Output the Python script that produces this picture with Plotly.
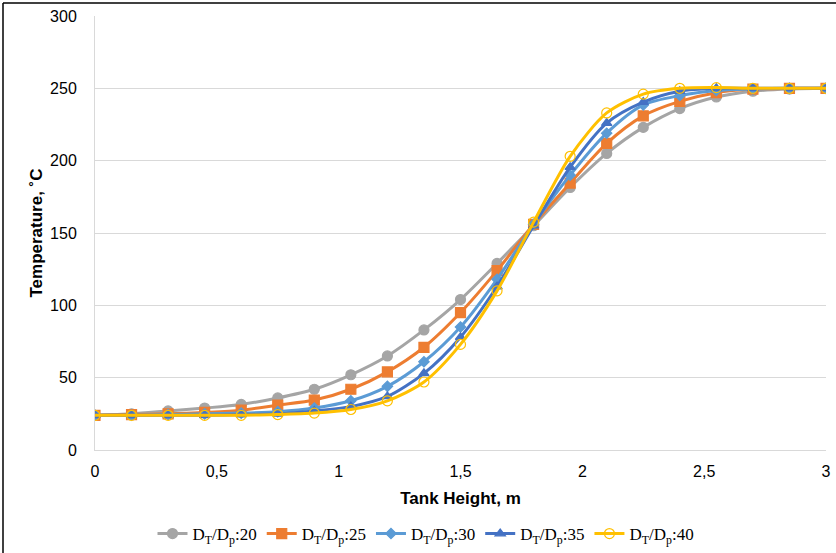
import plotly.graph_objects as go

heights = [0, 0.15, 0.3, 0.45, 0.6, 0.75, 0.9, 1.05, 1.2, 1.35, 1.5, 1.65, 1.8, 1.95, 2.1, 2.25, 2.4, 2.55, 2.7, 2.85, 3.0]

t_20 = [24, 25, 27, 29, 31.5, 36, 42, 52, 65, 83, 104, 129, 155, 181.5, 205, 223, 236, 244, 248, 249.5, 250]
t_25 = [24, 24.5, 25, 26, 27.5, 31, 34.5, 42, 54, 71, 95, 124, 156, 184.5, 212, 231, 241, 247, 249.5, 250, 250]
t_30 = [24, 24, 24.5, 25, 25.5, 26.5, 29, 34, 44, 61, 85, 118, 156, 190, 219, 238.5, 245, 248.5, 249.5, 250, 250]
t_35 = [24, 24, 24, 24, 24.5, 25, 27, 30, 37, 53, 78, 113, 155, 195.5, 226, 240.5, 248, 250, 250, 250, 250]
t_40 = [24, 24, 24, 24, 24, 24.5, 25.5, 28, 34, 47, 73, 110, 157.5, 203, 233, 246, 250, 250.5, 250, 250, 250]

series_names = ["D<sub>T</sub>/D<sub>p</sub>:20", "D<sub>T</sub>/D<sub>p</sub>:25",
                "D<sub>T</sub>/D<sub>p</sub>:30", "D<sub>T</sub>/D<sub>p</sub>:35",
                "D<sub>T</sub>/D<sub>p</sub>:40"]
series_values = [t_20, t_25, t_30, t_35, t_40]
colors = ["#A5A5A5", "#ED7D31", "#5B9BD5", "#4472C4", "#FFC000"]
symbols = ["circle", "square", "diamond", "triangle-up", "circle-open"]
sizes = [10, 10, 8, 9, 10]

fig = go.Figure()
for name, vals, col, sym, sz in zip(series_names, series_values, colors, symbols, sizes):
    fig.add_trace(go.Scatter(
        x=heights, y=vals, name=name, mode="lines+markers",
        line=dict(color=col, width=3, shape="spline", smoothing=0.8),
        marker=dict(symbol=sym, size=sz, color=col, line=dict(width=1.2, color=col)),
    ))

PW, PH = 731, 434
fig.update_layout(
    width=836, height=553,
    margin=dict(l=95, r=10, t=16, b=103, autoexpand=False),
    paper_bgcolor="white", plot_bgcolor="white",
    separators=", ",
    font=dict(family="Liberation Sans, Arial", size=16, color="#000000"),
    showlegend=True,
    legend=dict(orientation="h", x=(426 - 95) / PW, xanchor="center",
                y=-(534 - 450) / PH, yanchor="middle",
                font=dict(family="Liberation Serif, Times New Roman", size=17, color="#000"),
                itemwidth=30, tracegroupgap=0),
    xaxis=dict(range=[0, 3], dtick=0.5, tick0=0, showgrid=False, zeroline=False,
               showline=True, linecolor="#D9D9D9", linewidth=1, ticks="",
               ticklabelstandoff=7, automargin=False,
               title=dict(text="<b>Tank Height, m</b>", font=dict(size=17), standoff=12)),
    yaxis=dict(range=[0, 300], dtick=50, showgrid=True, gridcolor="#D9D9D9", gridwidth=1,
               zeroline=False, showline=True, linecolor="#D9D9D9", linewidth=1, ticks="",
               ticklabelstandoff=14, automargin=False,
               title=dict(text="<b>Temperature, ˚C</b>", font=dict(size=17), standoff=3)),
)
fig.add_shape(type="line", xref="paper", yref="paper", x0=-92 / PW, x1=-92 / PW,
              y0=-103 / PH, y1=1 + 13 / PH, line=dict(color="black", width=1.5))
fig.add_shape(type="line", xref="paper", yref="paper", x0=-92 / PW, x1=1 + 10 / PW,
              y0=1 + 13 / PH, y1=1 + 13 / PH, line=dict(color="black", width=1.5))

fig.write_html("out.html")
